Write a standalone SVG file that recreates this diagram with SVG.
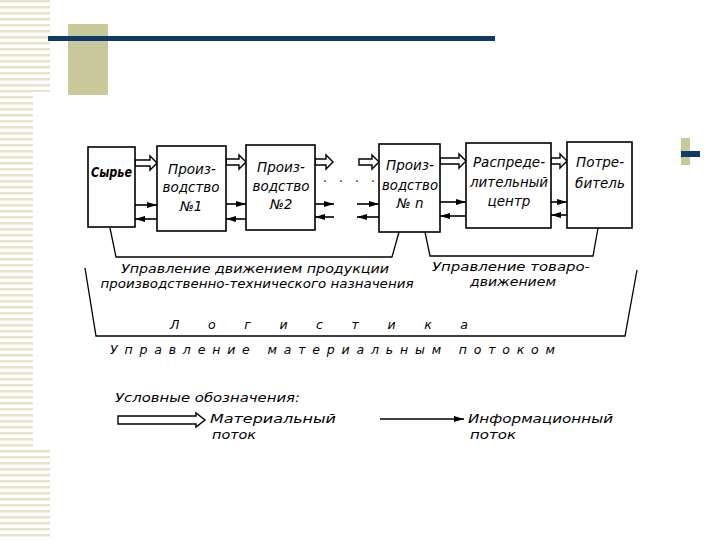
<svg xmlns="http://www.w3.org/2000/svg" width="720" height="540" viewBox="0 0 720 540">
<defs>
<pattern id="stripes" x="0" y="0" width="10" height="6" patternUnits="userSpaceOnUse">
<rect x="0" y="0" width="10" height="2.5" fill="#e6e4c9"/>
</pattern>
<marker id="ah" markerWidth="11" markerHeight="8" refX="10" refY="4" orient="auto" markerUnits="userSpaceOnUse">
<path d="M0,1 L10,4 L0,7 Z" fill="#000"/>
</marker>
</defs>
<style>
.box{fill:#fff;stroke:#000;stroke-width:1.6}
.mat{fill:#fff;stroke:#000;stroke-width:1.4;stroke-linejoin:miter}
.inf{stroke:#000;stroke-width:1.6;fill:none}
.br{stroke:#000;stroke-width:1.3;fill:none}
text{font-family:"DejaVu Sans","Liberation Sans",sans-serif;font-style:italic;font-size:12.5px;fill:#000}
.n{font-size:13.5px}
.c{text-anchor:middle}
</style>
<rect width="720" height="540" fill="#fff"/>
<!-- decoration -->
<g id="decor">
<rect x="0" y="0" width="50" height="92" fill="url(#stripes)"/>
<rect x="0" y="92" width="33" height="355" fill="url(#stripes)"/>
<rect x="0" y="447" width="50" height="93" fill="url(#stripes)"/>
<rect x="68" y="24" width="40" height="71" fill="#c9c89b"/>
<rect x="48" y="36" width="447" height="5" fill="#0f3a6b"/>
<rect x="681" y="138" width="9" height="27" fill="#c9c89b"/>
<rect x="681" y="151" width="19" height="6" fill="#0f3a6b"/>
</g>
<!-- connectors -->
<g id="connectors">
<path class="mat" d="M135,160 L150,160 L150,156 L157,163 L150,170 L150,166 L135,166 Z"/>
<path class="mat" d="M226,159 L239,159 L239,155 L246,162 L239,169 L239,165 L226,165 Z"/>
<path class="mat" d="M315,159 L326,159 L326,155 L333,162 L326,169 L326,165 L315,165 Z"/>
<path class="mat" d="M359,159 L372,159 L372,155 L379,162 L372,169 L372,165 L359,165 Z"/>
<path class="mat" d="M440,158 L459,158 L459,154 L466,161 L459,168 L459,164 L440,164 Z"/>
<path class="mat" d="M551,158 L560,158 L560,154 L567,161 L560,168 L560,164 L551,164 Z"/>
<line class="inf" x1="135" y1="205" x2="157" y2="205" marker-end="url(#ah)"/>
<line class="inf" x1="157" y1="219" x2="135" y2="219" marker-end="url(#ah)"/>
<line class="inf" x1="226" y1="204" x2="246" y2="204" marker-end="url(#ah)"/>
<line class="inf" x1="246" y1="219" x2="226" y2="219" marker-end="url(#ah)"/>
<line class="inf" x1="315" y1="204" x2="334" y2="204" marker-end="url(#ah)"/>
<line class="inf" x1="334" y1="217" x2="315" y2="217" marker-end="url(#ah)"/>
<line class="inf" x1="357" y1="204" x2="379" y2="204" marker-end="url(#ah)"/>
<line class="inf" x1="379" y1="217" x2="357" y2="217" marker-end="url(#ah)"/>
<line class="inf" x1="440" y1="202" x2="466" y2="202" marker-end="url(#ah)"/>
<line class="inf" x1="466" y1="216" x2="440" y2="216" marker-end="url(#ah)"/>
<line class="inf" x1="551" y1="202" x2="567" y2="202" marker-end="url(#ah)"/>
<line class="inf" x1="567" y1="215" x2="551" y2="215" marker-end="url(#ah)"/>
<text x="351" y="186" class="c" style="font-style:normal;letter-spacing:4px">· · · ·</text>
<path class="br" d="M110,228 L116,257 L392,257 L399,232"/>
<path class="br" d="M425,232 L430,256 L593,256 L598,228"/>
<path class="br" d="M85,268 L96,336 L625,336 L637,270"/>
</g>
<!-- nodes -->
<g id="syrye">
<rect class="box" x="88" y="147" width="47" height="80"/>
<text x="91" y="177" class="n" font-weight="bold" textLength="41" lengthAdjust="spacingAndGlyphs">Сырье</text>
</g>
<g id="proizv1">
<rect class="box" x="157" y="146" width="69" height="85"/>
<text x="192" y="174" class="c n">Произ-</text>
<text x="191" y="192" class="c n">водство</text>
<text x="191" y="211" class="c n">№1</text>
</g>
<g id="proizv2">
<rect class="box" x="246" y="145" width="69" height="85"/>
<text x="281" y="172" class="c n">Произ-</text>
<text x="281" y="191" class="c n">водство</text>
<text x="281" y="209" class="c n">№2</text>
</g>
<g id="proizvn">
<rect class="box" x="379" y="144" width="61" height="88"/>
<text x="410" y="170" class="c n">Произ-</text>
<text x="410" y="190" class="c n" textLength="56" lengthAdjust="spacingAndGlyphs">водство</text>
<text x="410" y="208" class="c n">№ n</text>
</g>
<g id="raspred">
<rect class="box" x="466" y="143" width="85" height="85"/>
<text x="509" y="167" class="c n">Распреде-</text>
<text x="509" y="187" class="c n" textLength="78" lengthAdjust="spacingAndGlyphs">лительный</text>
<text x="509" y="206" class="c n">центр</text>
</g>
<g id="potreb">
<rect class="box" x="567" y="142" width="65" height="86"/>
<text x="600" y="167" class="c n">Потре-</text>
<text x="600" y="188" class="c n">битель</text>
</g>
<!-- labels -->
<g id="labels">
<text x="255" y="273" class="c" textLength="268" lengthAdjust="spacingAndGlyphs">Управление движением продукции</text>
<text x="257" y="288" class="c" textLength="313" lengthAdjust="spacingAndGlyphs">производственно-технического назначения</text>
<text x="511" y="271" class="c" textLength="158" lengthAdjust="spacingAndGlyphs">Управление товаро-</text>
<text x="513" y="286" class="c" textLength="86" lengthAdjust="spacingAndGlyphs">движением</text>
<text x="170" y="329" textLength="298" lengthAdjust="spacing">Логистика</text>
<text x="110" y="354" textLength="445" lengthAdjust="spacing">Управление материальным потоком</text>
<text x="115" y="402" textLength="185" lengthAdjust="spacingAndGlyphs">Условные обозначения:</text>
</g>
<g id="legend">
<path class="mat" d="M118,416 L196,416 L196,413 L205,420 L196,427 L196,424 L118,424 Z"/>
<text x="210" y="423" textLength="126" lengthAdjust="spacingAndGlyphs">Материальный</text>
<text x="212" y="439" textLength="44" lengthAdjust="spacingAndGlyphs">поток</text>
<line class="inf" x1="380" y1="419" x2="464" y2="419" marker-end="url(#ah)"/>
<text x="468" y="423" textLength="145" lengthAdjust="spacingAndGlyphs">Информационный</text>
<text x="470" y="439" textLength="46" lengthAdjust="spacingAndGlyphs">поток</text>
</g>
</svg>
